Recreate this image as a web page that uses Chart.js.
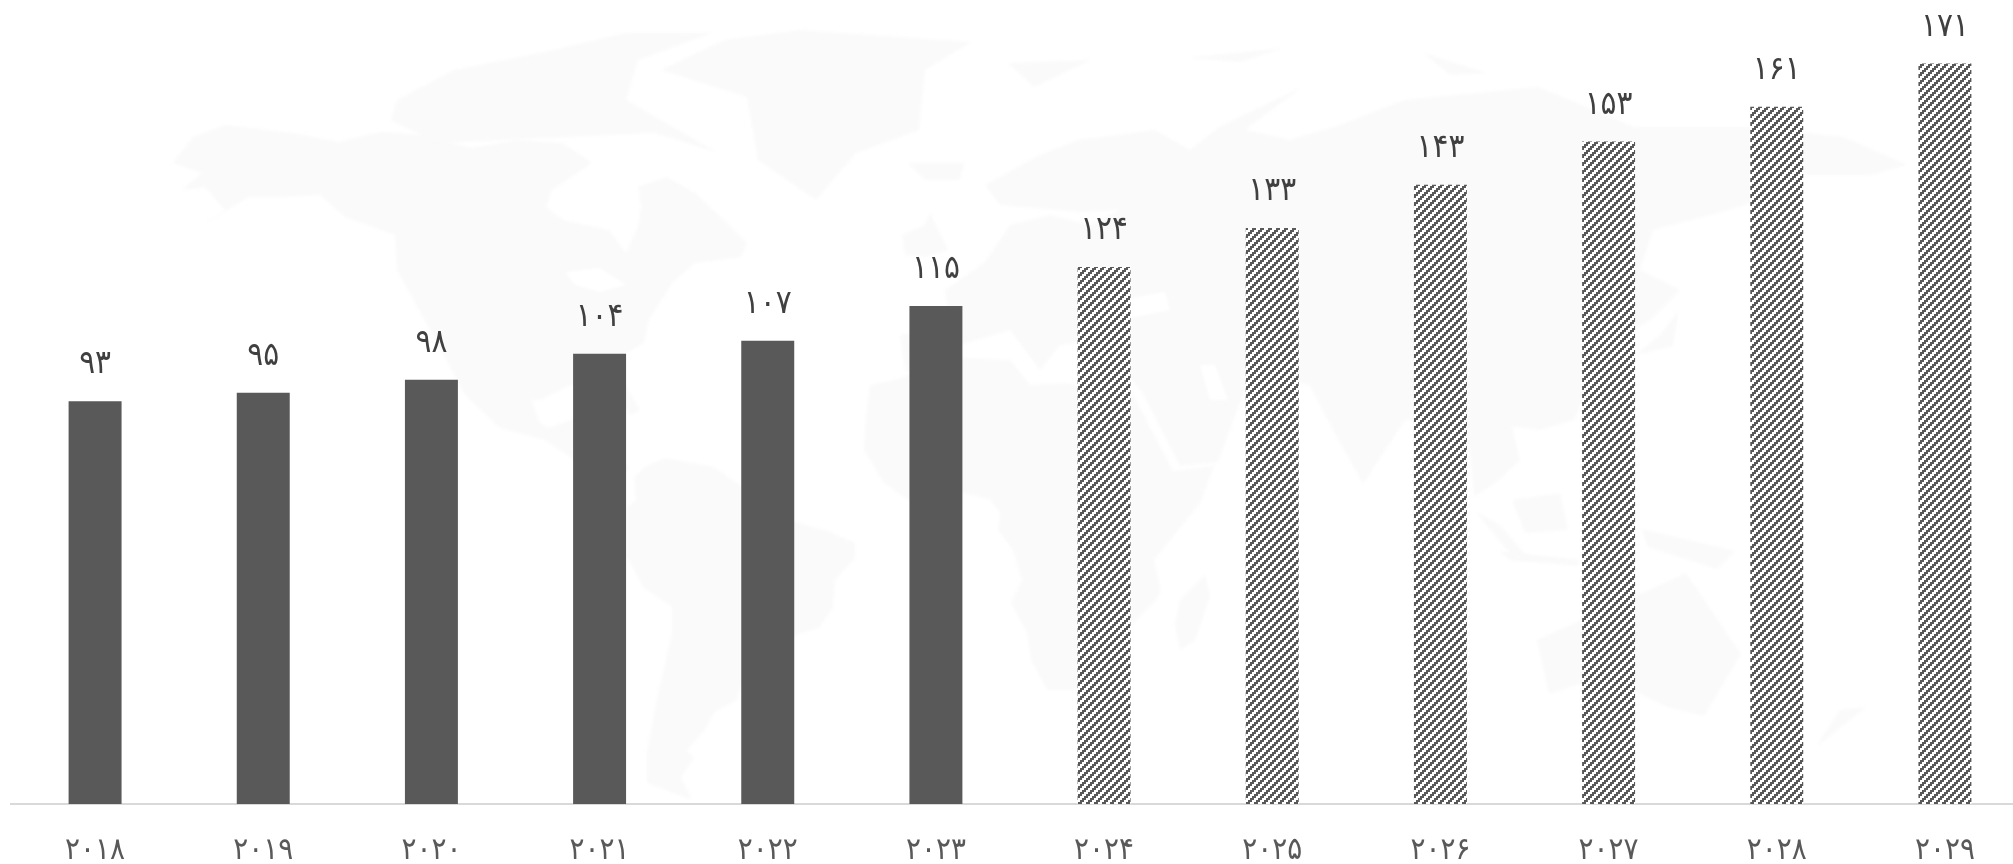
<!DOCTYPE html>
<html>
<head>
<meta charset="utf-8">
<style>
html,body{margin:0;padding:0;background:#fff;overflow:hidden;}
#wrap{width:2029px;height:864px;}
</style>
<script src="https://cdn.jsdelivr.net/npm/chart.js@4/dist/chart.umd.min.js"></script>
</head>
<body>
<div id="wrap"><canvas id="barChart" width="2029" height="864"></canvas></div>
<script>
// سال‌ها و مقادیر
var years = ['۲۰۱۸','۲۰۱۹','۲۰۲۰','۲۰۲۱','۲۰۲۲','۲۰۲۳','۲۰۲۴','۲۰۲۵','۲۰۲۶','۲۰۲۷','۲۰۲۸','۲۰۲۹'];
var values = [93,95,98,104,107,115,124,133,143,153,161,171];
var forecastFrom = 6; //از ۲۰۲۴ به بعد هاشور

var fontName = '"DejaVu Sans Condensed","DejaVu Sans",sans-serif';
var barColor = '#595959';

// نقشه جهان، فقط تزئینی در پس‌زمینه
var mapShapes = [
	// North America
	[[173,163],[193,137],[225,125],[293,133],[339,142],[380,132],[425,135],[471,148],[517,140],[563,143],[592,163],[552,190],[546,207],[563,220],[609,230],[626,253],[638,227],[641,207],[638,187],[667,177],[695,193],[724,220],[747,243],[741,257],[695,263],[672,283],[649,320],[644,343],[609,363],[625,385],[640,410],[630,415],[610,385],[570,385],[540,400],[531,400],[540,423],[549,428],[571,420],[585,410],[580,430],[573,450],[610,470],[630,465],[620,480],[590,470],[545,440],[500,428],[465,395],[448,363],[397,270],[395,235],[345,217],[320,195],[282,197],[248,197],[196,230],[225,210],[205,187],[182,190],[202,173]],
	// Arctic islands
	[[397,100],[454,70],[540,53],[626,33],[712,33],[638,60],[626,100],[718,153],[700,147],[655,133],[437,143],[391,120]],
	// Greenland, Iceland
	[[661,70],[724,40],[800,30],[971,42],[925,70],[919,130],[856,153],[816,200],[758,160],[747,97]],
	[[908,163],[965,163],[959,180],[925,180]],
	// South America
	[[645,467],[665,458],[714,467],[737,483],[795,522],[830,532],[855,543],[855,558],[835,580],[833,607],[819,628],[795,635],[741,687],[737,700],[714,712],[705,730],[687,750],[694,758],[681,777],[692,800],[647,783],[647,753],[656,703],[672,633],[672,607],[643,587],[627,557],[627,507],[636,500],[634,477]],
	// Africa
	[[866,417],[870,385],[899,379],[945,357],[1010,360],[1030,385],[1066,383],[1100,390],[1133,395],[1173,471],[1214,466],[1200,503],[1154,560],[1161,590],[1156,600],[1129,627],[1110,660],[1076,690],[1047,690],[1031,660],[1027,633],[1011,603],[1022,580],[1013,550],[998,530],[1000,513],[991,500],[962,492],[908,500],[884,483],[864,450]],
	// Eurasia
	[[905,370],[900,335],[950,325],[945,290],[985,262],[1010,225],[1050,215],[1090,225],[1120,210],[1080,212],[1000,205],[985,185],[1040,155],[1078,140],[1155,130],[1190,150],[1219,127],[1302,87],[1245,130],[1290,140],[1340,125],[1404,100],[1538,87],[1634,127],[1755,127],[1844,137],[1907,165],[1870,175],[1800,175],[1760,200],[1729,210],[1653,230],[1640,270],[1680,290],[1650,320],[1600,350],[1590,385],[1574,420],[1540,430],[1512,426],[1520,460],[1499,480],[1474,497],[1470,450],[1450,420],[1405,420],[1363,484],[1326,417],[1310,385],[1250,375],[1218,462],[1180,466],[1142,392],[1125,372],[1110,340],[1060,345],[1040,370],[1010,330],[960,345],[935,375]],
	// UK
	[[902,235],[925,225],[930,213],[948,250],[925,257],[905,255]],
	// Madagascar
	[[1205,575],[1210,595],[1195,640],[1180,650],[1175,625],[1180,600]],
	// Australia, NZ
	[[1537,640],[1636,596],[1686,573],[1741,654],[1704,716],[1667,707],[1605,676],[1549,694]],
	[[1866,707],[1816,747],[1840,710]],
	// Indonesia etc
	[[1512,500],[1560,493],[1568,530],[1525,533]],
	[[1475,511],[1500,525],[1530,560],[1515,560]],
	[[1642,529],[1735,551],[1717,569],[1648,547]],
	[[1499,551],[1580,560],[1578,566],[1510,560]],
	[[1679,310],[1673,346],[1636,355],[1660,335]],
	// Arctic Russia
	[[1008,63],[1091,60],[1034,87]],
	[[1187,58],[1283,48],[1240,62]],
	[[1423,53],[1487,73],[1450,75]]
];
// دریاچه‌ها و دریاهای بسته
var mapLakes = [
	[[565,272],[600,268],[626,285],[600,292],[575,285]],
	[[1120,300],[1165,292],[1170,310],[1130,318]],
	[[1200,365],[1215,365],[1228,400],[1210,400]]
];

function makeHatch(){
	var tile = document.createElement('canvas');
	tile.width = 8;
	tile.height = 8;
	var c = tile.getContext('2d');
	c.fillStyle = '#fff';
	c.fillRect(0,0,8,8);
	c.fillStyle = barColor;
	for(var y=0;y<8;y+=2){
		for(var x=0;x<8;x+=2){
			if((x+y)%8<4){
				c.fillRect(x,y,2,2);
			}
		}
	}
	return c.createPattern(tile,'repeat');
}

function toPersian(n){
	return String(n).replace(/\d/g,function(d){ return '۰۱۲۳۴۵۶۷۸۹'[d]; });
}

function fillShapes(c,shapes,color){
	c.fillStyle = color;
	shapes.forEach(function(shape){
		c.beginPath();
		shape.forEach(function(p,i){
			if(i==0){ c.moveTo(p[0],p[1]); }else{ c.lineTo(p[0],p[1]); }
		});
		c.closePath();
		c.fill();
	});
}

var hatch = makeHatch();
var barFills = values.map(function(v,i){ return i<forecastFrom ? barColor : hatch; });

// پس‌زمینه نقشه
var worldMap = {
	id:'worldMap',
	beforeDraw:function(chart){
		var c = chart.ctx;
		c.save();
		c.filter = 'blur(1.5px)';
		fillShapes(c,mapShapes,'#fafafa');
		fillShapes(c,mapLakes,'#ffffff');
		c.restore();
	}
};

// برچسب مقدار بالای هر ستون
var valueLabels = {
	id:'valueLabels',
	afterDatasetsDraw:function(chart){
		var c = chart.ctx;
		var bars = chart.getDatasetMeta(0).data;
		c.save();
		c.font = '33px '+fontName;
		c.fillStyle = '#404040';
		c.textAlign = 'center';
		c.textBaseline = 'alphabetic';
		bars.forEach(function(bar,i){
			c.fillText(toPersian(values[i]),bar.x,bar.y-28);
		});
		c.restore();
	}
};

new Chart(document.getElementById('barChart'),{
	type:'bar',
	data:{
		labels:years,
		datasets:[{
			data:values,
			backgroundColor:barFills,
			barPercentage:0.315,
			categoryPercentage:1,
			borderWidth:0
		}]
	},
	options:{
		responsive:false,
		animation:false,
		layout:{padding:{left:11,right:0,top:0,bottom:0}},
		plugins:{legend:{display:false},tooltip:{enabled:false}},
		scales:{
			y:{display:false,min:0,max:185.68},
			x:{
				afterFit:function(s){ s.height = 60; },
				grid:{display:false},
				border:{display:true,color:'#d9d9d9',width:2},
				ticks:{
					color:'#595959',
					padding:20,
					maxRotation:0,
					autoSkip:false,
					font:{family:fontName,size:31}
				}
			}
		}
	},
	plugins:[worldMap,valueLabels]
});
</script>
</body>
</html>
